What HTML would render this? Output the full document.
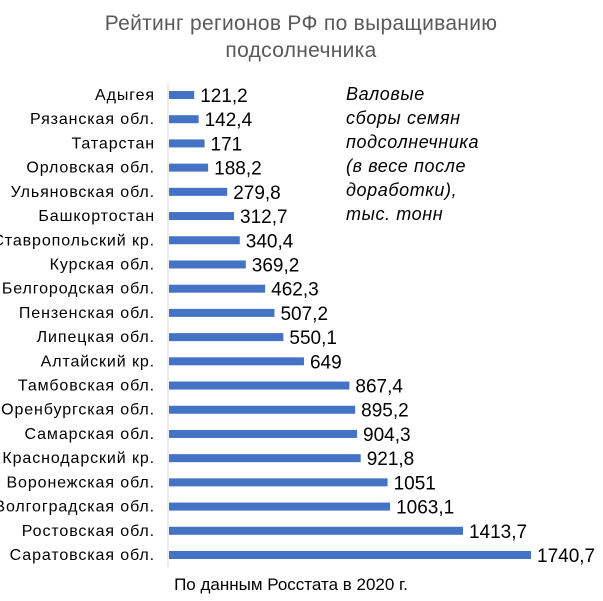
<!DOCTYPE html>
<html><head><meta charset="utf-8">
<style>
body{margin:0;background:#fff;width:603px;height:601px;overflow:hidden;font-family:"Liberation Sans",sans-serif;}
svg{display:block}
</style></head>
<body>
<svg width="603" height="601">
<text x="301" y="30" text-anchor="middle" font-size="21" letter-spacing="0.3" fill="#595959">Рейтинг регионов РФ по выращиванию</text>
<text x="301" y="57" text-anchor="middle" font-size="21" letter-spacing="0.3" fill="#595959">подсолнечника</text>
<line x1="168" y1="84" x2="168" y2="567" stroke="#d9d9d9" stroke-width="1"/>
<g id="bars"></g>
<g font-size="18" letter-spacing="0.6" font-style="italic" fill="#000">
<text x="346" y="100">Валовые</text>
<text x="346" y="124">сборы семян</text>
<text x="346" y="148">подсолнечника</text>
<text x="346" y="172">(в весе после</text>
<text x="346" y="196">доработки),</text>
<text x="346" y="220">тыс. тонн</text>
</g>
<text x="291" y="590" text-anchor="middle" font-size="17" fill="#000">По данным Росстата в 2020 г.</text>
</svg>
<script>
const categories=["Адыгея","Рязанская обл.","Татарстан","Орловская обл.","Ульяновская обл.","Башкортостан","Ставропольский кр.","Курская обл.","Белгородская обл.","Пензенская обл.","Липецкая обл.","Алтайский кр.","Тамбовская обл.","Оренбургская обл.","Самарская обл.","Краснодарский кр.","Воронежская обл.","Волгоградская обл.","Ростовская обл.","Саратовская обл."];
const values=[121.2,142.4,171,188.2,279.8,312.7,340.4,369.2,462.3,507.2,550.1,649,867.4,895.2,904.3,921.8,1051,1063.1,1413.7,1740.7];
const valueLabels=["121,2","142,4","171","188,2","279,8","312,7","340,4","369,2","462,3","507,2","550,1","649","867,4","895,2","904,3","921,8","1051","1063,1","1413,7","1740,7"];
const NS="http://www.w3.org/2000/svg";
const x0=169, xScale=v=>x0+v*(531-169)/1740.7;
const yc=i=>95+i*(555-95)/19;
const g=document.getElementById('bars');
categories.forEach((c,i)=>{
  const r=document.createElementNS(NS,'rect');
  
  
  r.setAttribute('x',x0);r.setAttribute('y',yc(i)-4);
  r.setAttribute('width',xScale(values[i])-x0);r.setAttribute('height',8);
  r.setAttribute('fill','#4472c4');g.appendChild(r);
  const t=document.createElementNS(NS,'text');
  
  
  t.setAttribute('x',155);t.setAttribute('y',yc(i)+5);
  t.setAttribute('text-anchor','end');t.setAttribute('font-size','16');t.setAttribute('letter-spacing','0.9');t.setAttribute('fill','#000');
  t.textContent=c;g.appendChild(t);
  const v=document.createElementNS(NS,'text');
  
  
  v.setAttribute('x',xScale(values[i])+6);v.setAttribute('y',yc(i)+7);
  v.setAttribute('font-size','19');v.setAttribute('fill','#000');
  v.textContent=valueLabels[i];g.appendChild(v);
});
</script>
</body></html>
